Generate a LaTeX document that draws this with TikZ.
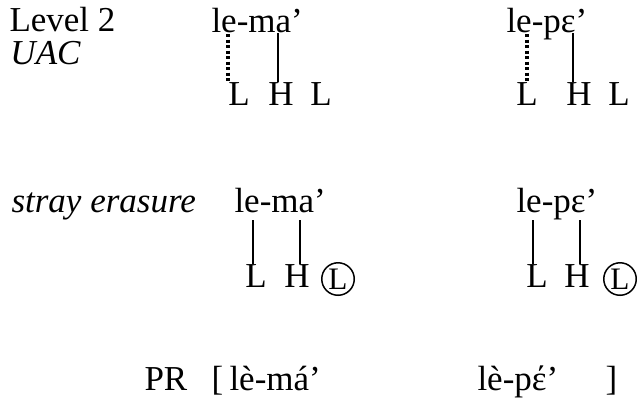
\documentclass[tikz,border=0pt]{standalone}
\usepackage{fontspec}
\setmainfont{Liberation Serif}
\usepackage{tikz}
\usetikzlibrary{calc}
\tikzstyle{word} = [anchor=base west, inner sep=0pt, font=\fontsize{14}{16}\selectfont]
\tikzstyle{tone} = [anchor=base, inner sep=0pt, font=\fontsize{14}{16}\selectfont]
\tikzstyle{stray} = [circle, draw, line width=0.6pt, minimum size=13pt, inner sep=0pt, font=\fontsize{12.5}{14}\selectfont]
\tikzstyle{assoc} = [draw, line width=0.6pt]
\tikzstyle{linkdots} = [draw, line width=1.4pt, dash pattern=on 1.3pt off 0.9pt]

\begin{document}
\begin{tikzpicture}[x=0.4pt, y=-0.4pt]
    \useasboundingbox (0,0) rectangle (637,403);

    % level 2, UAC
    \node[word] at (9, 31) (lev) {Level 2};
    \node[word] at (10, 64) (uac) {\itshape UAC};
    \node[word] at (211, 32) (lm1) {le-ma’};
    \node[word] at (506, 32) (lp1) {le-pε’};
    \node[tone] at (239, 105) (tL1) {L};
    \node[tone] at (281, 105) (tH1) {H};
    \node[tone] at (321, 105) (tL2) {L};
    \node[tone] at (527, 105) (tL3) {L};
    \node[tone] at (579, 105) (tH2) {H};
    \node[tone] at (619, 105) (tL4) {L};
    \path[linkdots] ($(tL1.north west |- lm1.base)+(0,2)$) -- (tL1.north west);
    \path[assoc] ($(tH1.north |- lm1.base)+(-3,1)$) -- ($(tH1.north)+(-3,0)$);
    \path[linkdots] ($(tL3.north |- lp1.base)+(0,2)$) -- (tL3.north);
    \path[assoc] ($(tH2.north |- lp1.base)+(-6,1)$) -- ($(tH2.north)+(-6,0)$);

    % stray erasure
    \node[word] at (11, 212) (se) {\itshape stray erasure};
    \node[word] at (234, 212) (lm2) {le-ma’};
    \node[word] at (516, 212) (lp2) {le-pε’};
    \node[tone] at (256, 287) (tL5) {L};
    \node[tone] at (297, 287) (tH3) {H};
    \node[stray] at (338, 279) (tC1) {L};
    \node[tone] at (537, 287) (tL6) {L};
    \node[tone] at (577, 287) (tH4) {H};
    \node[stray] at (620, 279) (tC2) {L};
    \path[assoc] ($(tL5.north |- lm2.base)+(-3,8)$) -- ($(tL5.north)+(-3,0)$);
    \path[assoc] ($(tH3.north |- lm2.base)+(3,8)$) -- ($(tH3.north)+(3,0)$);
    \path[assoc] ($(tL6.north |- lp2.base)+(-4,8)$) -- ($(tL6.north)+(-4,0)$);
    \path[assoc] ($(tH4.north |- lp2.base)+(3,8)$) -- ($(tH4.north)+(3,0)$);

    % phonetic result
    \node[word] at (144, 390) (pr) {PR};
    \node[word] at (211, 390) (opn) {[};
    \node[word] at (229, 390) (lm3) {lè-má’};
    \node[word] at (477, 390) (lp3) {lè-pέ’};
    \node[word] at (605, 390) (cls) {]};
\end{tikzpicture}
\end{document}
